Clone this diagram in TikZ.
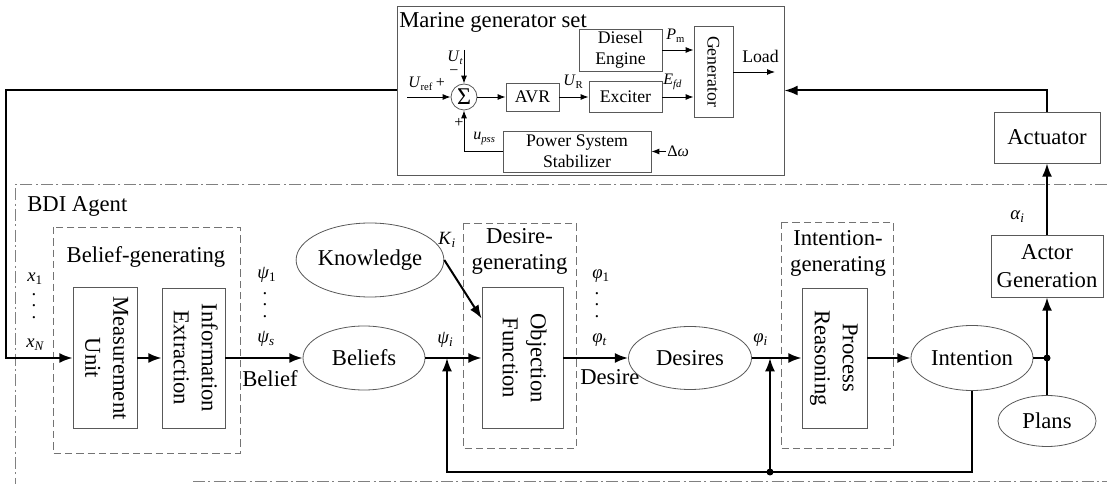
\documentclass[tikz,border=0pt]{standalone}
\usepackage{fontspec}
\setmainfont{Liberation Serif}
\usetikzlibrary{arrows.meta,shapes.geometric}

\begin{document}
\begin{tikzpicture}[x=0.75pt,y=0.75pt,yscale=-1,
    sz/.style 2 args={minimum width=#1*0.75pt,minimum height=#2*0.75pt},
    blk/.style={draw=black!65,line width=0.6pt,inner sep=0pt,align=center,font=\fontsize{17}{21}\selectfont},
    sblk/.style={draw=black!65,line width=0.6pt,inner sep=0pt,align=center,font=\fontsize{13.3}{16}\selectfont},
    oval/.style={ellipse,draw=black!65,line width=0.6pt,inner sep=0pt,font=\fontsize{17}{21}\selectfont},
    grp/.style={draw=black!55,line width=0.6pt,dash pattern=on 5.5pt off 3pt},
    bdi/.style={draw=black!50,line width=0.75pt,dash pattern=on 9pt off 2.5pt on 1.5pt off 2.5pt},
    lbl/.style={inner sep=0pt,font=\fontsize{17}{19.5}\selectfont},
    txt/.style={inner sep=0pt,font=\fontsize{13.3}{16}\selectfont},
    mlbl/.style={inner sep=0pt,font=\fontsize{14}{16}\selectfont},
    slbl/.style={inner sep=0pt,font=\fontsize{12}{14}\selectfont},
    vdot/.style={inner sep=0pt,font=\fontsize{14}{14}\selectfont},
    flow/.style={line width=1.5pt,-{Latex[length=10pt,width=7.5pt]}},
    sflow/.style={line width=0.7pt,-{Latex[length=6pt,width=4.5pt]}},
    fbk/.style={line width=1.5pt}
  ]
  \useasboundingbox (0,0) rectangle (1107,484);

  %Marine generator set
  \node (mgs) [draw=black!65,line width=0.6pt,sz={387}{169}] at (590.5,90.5) {};
  \node (mgstitle) [lbl,anchor=base west] at (399,28) {Marine generator set};
  \node (sum) [circle,draw=black!65,line width=0.6pt,inner sep=0pt,sz={26}{26},font=\fontsize{18}{18}\selectfont] at (464,97) {Σ};
  \node (avr) [sblk,sz={53}{28}] at (532.5,97) {AVR};
  \node (exc) [sblk,sz={73}{31}] at (625.5,97) {Exciter};
  \node (die) [sblk,sz={83}{42}] at (620.5,50) {Diesel\\Engine};
  \node (gen) [sblk,sz={39}{91}] at (713.5,71.5) {\rotatebox{-90}{Generator}};
  \node (pss) [sblk,sz={148}{41}] at (577,151.5) {Power System\\Stabilizer};

  % Text Node
  \node (urefl) [slbl,anchor=base west] at (408,88) {\textit{U}\textsubscript{ref}\,+};
  \node (utl) [slbl,anchor=base west] at (447,62) {\textit{U}\textsubscript{\textit{t}}};
  \node (minus) [slbl] at (454,73) {−};
  \node (plus) [slbl] at (459,123) {+};
  \node (upssl) [slbl,anchor=base west] at (473,140) {\textit{u}\textsubscript{\textit{pss}}};
  \node (url) [slbl,anchor=base west] at (563,86) {\textit{U}\textsubscript{R}};
  \node (efdl) [slbl,anchor=base west] at (663,85) {\textit{E}\textsubscript{\textit{fd}}};
  \node (pml) [slbl,anchor=base west] at (666,40) {\textit{P}\textsubscript{m}};
  \node (loadl) [txt,anchor=base west] at (742,63) {Load};
  \node (dwl) [slbl,anchor=base west] at (667,157) {Δ\textit{ω}};

  \coordinate (urefS) at (407,97);
  \coordinate (utS) at (464,50);
  \coordinate (loadE) at (775,72);
  \coordinate (dwS) at (666,151.5);

  %Straight Lines
  \draw [sflow] (urefS) -- (sum.west);
  \draw [sflow] (utS) -- (sum.north);
  \draw [sflow] (pss.west) -| (sum.south);
  \draw [sflow] (sum.east) -- (avr.west);
  \draw [sflow] (avr.east) -- (exc.west);
  \draw [sflow] (exc.east) -- (exc.east -| gen.west);
  \draw [sflow] (die.east) -- (die.east -| gen.west);
  \draw [sflow] (gen.east |- loadE) -- (loadE);
  \draw [sflow] (dwS) -- (pss.east);

  %Actuator side
  \node (act) [blk,sz={106}{51}] at (1047,137.5) {Actuator};
  \node (actgen) [blk,sz={112}{62}] at (1047,266) {Actor\\Generation};
  \node (alphal) [mlbl,anchor=base west] at (1010,220) {\textit{α}\textsubscript{\textit{i}}};
  \draw [flow] (actgen.north) -- (act.south);
  \draw [flow] (act.north) |- (mgs.east);

  %BDI agent frame
  \draw [bdi] (1107,185) -- (15,185) -- (15,484);
  \draw [bdi] (193,482) -- (1107,482);
  \node (bdil) [lbl,anchor=base west] at (27,212) {BDI Agent};

  %Belief-generating
  \draw [grp] (53,227) rectangle (240,453);
  \node (bgl) [lbl,anchor=base] at (146,263) {Belief-generating};
  \node (mu) [blk,sz={64}{141}] at (105,358) {\rotatebox{-90}{\begin{tabular}{@{}c@{}}Measurement\\Unit\end{tabular}}};
  \node (ie) [blk,sz={63}{140}] at (193.5,358) {\rotatebox{-90}{\begin{tabular}{@{}c@{}}Information\\Extraction\end{tabular}}};
  \node (x1l) [mlbl,anchor=base west] at (27,282) {\textit{x}\textsubscript{1}};
  \node (xdots) [vdot] at (34,306) {\shortstack{.\\[4pt].\\[4pt].}};
  \node (xNl) [mlbl,anchor=base west] at (26,348) {\textit{x}\textsubscript{\textit{N}}};
  \coordinate (inB) at (6,358);
  \draw [flow] (mgs.west) -| (inB) -- (mu.west);
  \draw [flow] (mu.east) -- (ie.west);

  %Beliefs and knowledge
  \node (psi1l) [mlbl,anchor=base west] at (257,279) {\textit{ψ}\textsubscript{1}};
  \node (psidots) [vdot] at (265,305) {\shortstack{.\\[4pt].\\[4pt].}};
  \node (psisl) [mlbl,anchor=base west] at (257,343) {\textit{ψ}\textsubscript{\textit{s}}};
  \node (beliefl) [lbl,anchor=base west] at (242,387) {Belief};
  \node (know) [oval,sz={141}{74}] at (370,260) {Knowledge};
  \node (bel) [oval,sz={122}{64}] at (364,358) {Beliefs};
  \draw [flow] (ie.east) -- (bel.west);
  \node (kil) [mlbl,anchor=base west] at (438,245) {\textit{K}\textsubscript{\textit{i}}};
  \node (psiil) [mlbl,anchor=base west] at (437,344) {\textit{ψ}\textsubscript{\textit{i}}};

  %Desire-generating
  \draw [grp] (463,223) rectangle (576,448);
  \node (dgl) [lbl,align=center] at (519.5,251) {Desire-\\generating};
  \node (obj) [blk,sz={81}{141}] at (522.5,358) {\rotatebox{-90}{\begin{tabular}{@{}c@{}}Objection\\Function\end{tabular}}};
  \draw [flow] (bel.east) -- (obj.west);
  \draw [flow] (know.east) -- (obj.136);
  \node (phi1l) [mlbl,anchor=base west] at (592,279) {\textit{φ}\textsubscript{1}};
  \node (phidots) [vdot] at (597,305) {\shortstack{.\\[4pt].\\[4pt].}};
  \node (phitl) [mlbl,anchor=base west] at (592,343) {\textit{φ}\textsubscript{\textit{t}}};
  \node (desirel) [lbl,anchor=base west] at (580,385) {Desire};
  \node (des) [oval,sz={123}{63}] at (690,358) {Desires};
  \draw [flow] (obj.east) -- (des.west);
  \node (phiil) [mlbl,anchor=base west] at (753,343) {\textit{φ}\textsubscript{\textit{i}}};

  %Intention-generating
  \draw [grp] (781,222) rectangle (893,448);
  \node (igl) [lbl,align=center] at (838,253) {Intention-\\generating};
  \node (pr) [blk,sz={65}{140}] at (834.5,358) {\rotatebox{-90}{\begin{tabular}{@{}c@{}}Process\\Reasoning\end{tabular}}};
  \draw [flow] (des.east) -- (pr.west);
  \node (int) [oval,sz={122}{65}] at (972,358) {Intention};
  \draw [flow] (pr.east) -- (int.west);
  \node (plans) [oval,sz={98}{51}] at (1047,421) {Plans};
  \coordinate (jn) at (1047,358);
  \draw [fbk] (int.east) -- (jn);
  \draw [fbk] (plans.north) -- (jn);
  \draw [flow] (jn) -- (actgen.south);
  \fill (jn) circle (3.5);

  %Feedback lines
  \coordinate (fbL) at (447,472);
  \coordinate (fbLT) at (447,358);
  \coordinate (fbM) at (770,472);
  \coordinate (fbMT) at (770,358);
  \draw [flow] (int.south) |- (fbL) -- (fbLT);
  \draw [flow] (fbM) -- (fbMT);
  \fill (fbM) circle (3.5);

\end{tikzpicture}
\end{document}
